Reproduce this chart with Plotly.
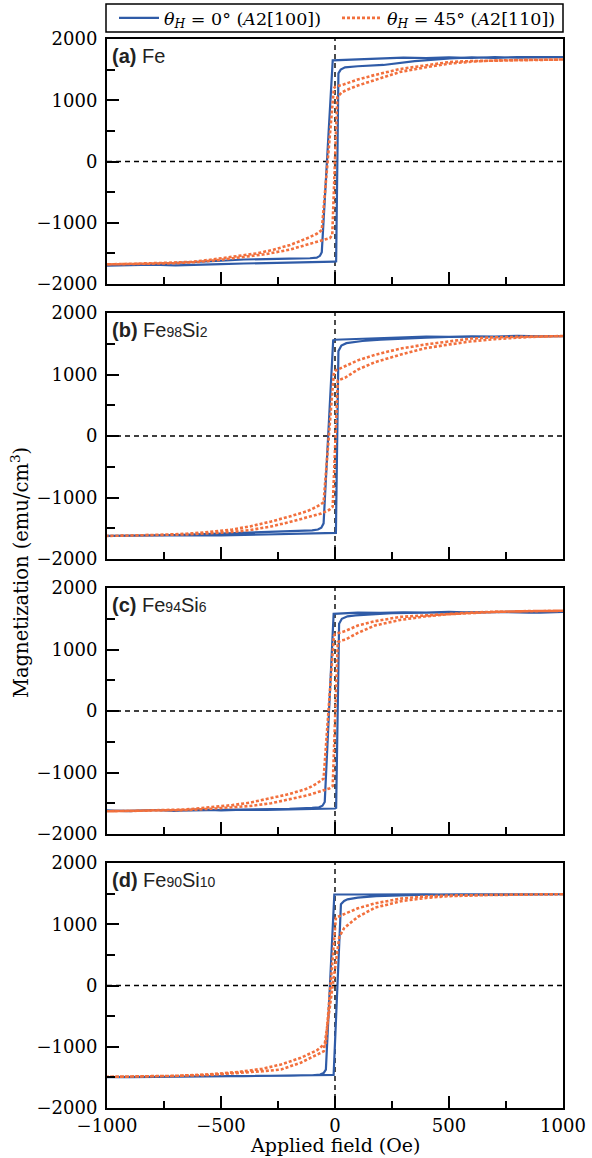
import plotly.graph_objects as go

# ---- measured M(H) loops: descending branch (+H -> -H) then ascending branch ----
# (a) Fe
A_BLUE_DOWN_H = [1000, 900, 800, 700, 600, 500, 400, 300, 200, 120, 60, 20, 0, -10, -58, -66, -80, -110, -200, -300, -400, -500, -600, -700, -800, -900, -1000]
A_BLUE_DOWN_M = [1705, 1700, 1695, 1705, 1690, 1700, 1690, 1695, 1680, 1672, 1665, 1660, 1658, 1652, -1480, -1540, -1570, -1580, -1585, -1590, -1600, -1620, -1640, -1660, -1670, -1690, -1700]
A_BLUE_UP_H = [-1000, -900, -800, -700, -600, -500, -400, -300, -200, -100, -40, 0, 5, 15, 25, 44, 100, 212, 350, 504, 600, 700, 800, 900, 1000]
A_BLUE_UP_M = [-1700, -1690, -1685, -1695, -1680, -1675, -1665, -1660, -1655, -1650, -1640, -1636, -1630, 1440, 1500, 1538, 1555, 1576, 1640, 1685, 1700, 1690, 1705, 1700, 1705]
A_ORNG_DOWN_H = [1000, 850, 700, 600, 504, 400, 285, 175, 100, 40, 0, -5, -58, -80, -120, -197, -270, -342, -420, -491, -560, -636, -750, -880, -1000]
A_ORNG_DOWN_M = [1665, 1660, 1650, 1640, 1625, 1575, 1510, 1413, 1340, 1260, 1217, 1190, -1120, -1180, -1250, -1363, -1440, -1500, -1545, -1576, -1610, -1640, -1655, -1670, -1680]
A_ORNG_UP_H = [-1000, -850, -700, -600, -491, -373, -300, -200, -120, -60, -22, -12, 10, 30, 51, 100, 175, 285, 400, 504, 600, 700, 850, 1000]
A_ORNG_UP_M = [-1680, -1670, -1660, -1640, -1600, -1550, -1510, -1440, -1360, -1290, -1250, -1200, 1050, 1130, 1168, 1240, 1330, 1462, 1540, 1600, 1630, 1650, 1660, 1665]

# (b) Fe98Si2
B_BLUE_DOWN_H = [1000, 900, 800, 700, 600, 500, 400, 300, 200, 100, 50, 0, -8, -50, -60, -75, -100, -200, -300, -400, -500, -600, -700, -800, -900, -1000]
B_BLUE_DOWN_M = [1625, 1620, 1628, 1615, 1622, 1612, 1618, 1605, 1600, 1590, 1580, 1565, 1555, -1420, -1490, -1520, -1535, -1550, -1560, -1575, -1590, -1600, -1610, -1615, -1620, -1625]
B_BLUE_UP_H = [-1000, -900, -800, -700, -600, -500, -400, -300, -200, -100, -40, 0, 4, 15, 28, 50, 80, 120, 200, 300, 400, 500, 600, 700, 800, 900, 1000]
B_BLUE_UP_M = [-1625, -1620, -1615, -1622, -1612, -1618, -1610, -1605, -1600, -1595, -1590, -1585, -1575, 1380, 1470, 1510, 1530, 1545, 1565, 1585, 1600, 1610, 1615, 1620, 1618, 1625, 1625]
B_ORNG_DOWN_H = [1000, 850, 700, 600, 504, 400, 285, 175, 100, 45, 0, -5, -50, -80, -120, -200, -280, -373, -450, -550, -650, -800, -1000]
B_ORNG_DOWN_M = [1625, 1620, 1605, 1585, 1540, 1490, 1420, 1320, 1230, 1130, 1060, 1030, -1080, -1150, -1220, -1310, -1390, -1470, -1520, -1560, -1590, -1610, -1625]
B_ORNG_UP_H = [-1000, -800, -650, -550, -450, -373, -280, -200, -120, -60, -25, -10, 12, 30, 45, 100, 175, 285, 400, 504, 600, 700, 850, 1000]
B_ORNG_UP_M = [-1625, -1615, -1600, -1580, -1560, -1530, -1470, -1400, -1320, -1260, -1200, -1150, 900, 930, 950, 1080, 1200, 1320, 1430, 1490, 1540, 1575, 1610, 1625]

# (c) Fe94Si6
C_BLUE_DOWN_H = [1000, 900, 800, 700, 600, 500, 400, 300, 200, 100, 40, 0, -6, -45, -55, -70, -100, -200, -300, -400, -500, -600, -700, -800, -900, -1000]
C_BLUE_DOWN_M = [1610, 1600, 1615, 1605, 1600, 1612, 1598, 1605, 1595, 1600, 1590, 1588, 1580, -1480, -1540, -1565, -1575, -1590, -1595, -1600, -1610, -1605, -1620, -1610, -1625, -1620]
C_BLUE_UP_H = [-1000, -900, -800, -700, -600, -500, -400, -300, -200, -100, -40, 0, 5, 18, 30, 55, 90, 150, 250, 400, 550, 700, 850, 1000]
C_BLUE_UP_M = [-1620, -1630, -1610, -1625, -1600, -1615, -1605, -1610, -1600, -1595, -1590, -1585, -1575, 1420, 1500, 1540, 1555, 1570, 1590, 1600, 1605, 1610, 1600, 1610]
C_ORNG_DOWN_H = [1000, 850, 700, 600, 504, 400, 285, 175, 100, 45, 0, -5, -50, -80, -120, -200, -280, -373, -450, -550, -650, -800, -1000]
C_ORNG_DOWN_M = [1630, 1625, 1615, 1600, 1580, 1560, 1530, 1460, 1390, 1300, 1250, 1220, -1100, -1180, -1260, -1350, -1420, -1490, -1530, -1570, -1600, -1615, -1630]
C_ORNG_UP_H = [-1000, -800, -650, -550, -450, -373, -280, -200, -120, -60, -25, -10, 12, 30, 45, 100, 175, 285, 400, 504, 600, 700, 850, 1000]
C_ORNG_UP_M = [-1630, -1620, -1610, -1590, -1570, -1545, -1500, -1440, -1370, -1300, -1260, -1220, 1120, 1150, 1160, 1270, 1390, 1480, 1540, 1575, 1595, 1610, 1625, 1630]

# (d) Fe90Si10
D_BLUE_DOWN_H = [1000, 900, 800, 700, 600, 500, 400, 300, 200, 100, 40, 0, -3, -40, -50, -65, -100, -200, -300, -400, -500, -600, -700, -800, -900, -1000]
D_BLUE_DOWN_M = [1490, 1485, 1492, 1480, 1488, 1482, 1490, 1485, 1488, 1486, 1486, 1486, 1486, -1372, -1430, -1455, -1465, -1470, -1475, -1480, -1485, -1488, -1490, -1492, -1495, -1495]
D_BLUE_UP_H = [-1000, -900, -800, -700, -600, -500, -400, -300, -200, -100, -40, -6, 26, 40, 55, 100, 180, 290, 400, 550, 700, 850, 1000]
D_BLUE_UP_M = [-1495, -1490, -1495, -1488, -1485, -1482, -1480, -1478, -1475, -1470, -1465, -1460, 1326, 1380, 1407, 1435, 1460, 1478, 1484, 1488, 1486, 1490, 1490]
D_ORNG_DOWN_H = [1000, 850, 700, 600, 504, 400, 290, 175, 100, 55, 4, -40, -80, -150, -237, -320, -420, -550, -700, -850, -1000]
D_ORNG_DOWN_M = [1490, 1485, 1478, 1475, 1470, 1455, 1420, 1340, 1260, 1189, 1107, -937, -1060, -1180, -1290, -1360, -1410, -1450, -1475, -1485, -1490]
D_ORNG_UP_H = [-1000, -850, -700, -550, -420, -320, -237, -150, -90, -49, 19, 41, 100, 175, 290, 400, 504, 600, 700, 850, 1000]
D_ORNG_UP_M = [-1490, -1485, -1475, -1460, -1430, -1400, -1372, -1260, -1150, -1073, 800, 941, 1120, 1270, 1377, 1430, 1459, 1472, 1480, 1486, 1490]

PANEL_LABELS = ["<b>(a)</b> Fe",
                "<b>(b)</b> Fe<span style='font-size:14px'>98</span>Si<span style='font-size:14px'>2</span>",
                "<b>(c)</b> Fe<span style='font-size:14px'>94</span>Si<span style='font-size:14px'>6</span>",
                "<b>(d)</b> Fe<span style='font-size:14px'>90</span>Si<span style='font-size:14px'>10</span>"]
SERIES_NAMES = ["<i>θ<sub>H</sub></i> = 0° (<i>A</i>2[100])",
                "<i>θ<sub>H</sub></i> = 45° (<i>A</i>2[110])"]
Y_TICKS = [-2000, -1000, 0, 1000, 2000]
Y_TICK_TEXT = ["−2000", "−1000", "0", "1000", "2000"]
X_TICKS = [-1000, -500, 0, 500, 1000]
X_TICK_TEXT = ["−1000", "−500", "0", "500", "1000"]

BLUE = "#2F5BA7"
ORANGE = "#F2703D"
SERIF = "DejaVu Serif"
SANS = "Liberation Sans"

panels = [
    (A_BLUE_DOWN_H + A_BLUE_UP_H, A_BLUE_DOWN_M + A_BLUE_UP_M, A_ORNG_DOWN_H + A_ORNG_UP_H, A_ORNG_DOWN_M + A_ORNG_UP_M),
    (B_BLUE_DOWN_H + B_BLUE_UP_H, B_BLUE_DOWN_M + B_BLUE_UP_M, B_ORNG_DOWN_H + B_ORNG_UP_H, B_ORNG_DOWN_M + B_ORNG_UP_M),
    (C_BLUE_DOWN_H + C_BLUE_UP_H, C_BLUE_DOWN_M + C_BLUE_UP_M, C_ORNG_DOWN_H + C_ORNG_UP_H, C_ORNG_DOWN_M + C_ORNG_UP_M),
    (D_BLUE_DOWN_H + D_BLUE_UP_H, D_BLUE_DOWN_M + D_BLUE_UP_M, D_ORNG_DOWN_H + D_ORNG_UP_H, D_ORNG_DOWN_M + D_ORNG_UP_M),
]

W, H = 592, 1158
M_L, M_R, M_T, M_B = 107, 29, 39, 50
plot_w = W - M_L - M_R
plot_h = H - M_T - M_B
# panel boxes in pixel rows (top, bottom)
rows_px = [(39, 284), (313, 559), (588, 834), (863, 1108)]


def to_paper_y(py):
    return (H - M_B - py) / plot_h


def to_paper_x(px):
    return (px - M_L) / plot_w


fig = go.Figure()
layout = {}
for i, (bh, bm, oh, om) in enumerate(panels):
    n = i + 1
    xa = "x" if n == 1 else f"x{n}"
    ya = "y" if n == 1 else f"y{n}"
    fig.add_trace(go.Scatter(x=bh, y=bm, mode="lines", xaxis=xa, yaxis=ya,
                             line=dict(color=BLUE, width=2.2), name=SERIES_NAMES[0],
                             showlegend=(n == 1), legendgroup="b"))
    fig.add_trace(go.Scatter(x=oh, y=om, mode="lines", xaxis=xa, yaxis=ya,
                             line=dict(color=ORANGE, width=2.6, dash="3px,2px"), name=SERIES_NAMES[1],
                             showlegend=(n == 1), legendgroup="o"))
    top, bot = rows_px[i]
    xkey = "xaxis" if n == 1 else f"xaxis{n}"
    ykey = "yaxis" if n == 1 else f"yaxis{n}"
    layout[xkey] = dict(
        domain=[0, 1], anchor=ya, range=[-1000, 1000],
        showline=True, mirror=True, linecolor="black", linewidth=2,
        showgrid=False, zeroline=False,
        ticks="inside", ticklen=12, tickwidth=1.5, tickcolor="black",
        tickvals=X_TICKS, ticktext=X_TICK_TEXT, showticklabels=(n == 4),
        minor=dict(ticks="inside", ticklen=7, tickwidth=1.5, tickcolor="black", dtick=250, tick0=0, showgrid=False),
        tickfont=dict(family=SERIF, size=18, color="black"),
        matches=None if n == 1 else "x",
    )
    layout[ykey] = dict(
        domain=[to_paper_y(bot), to_paper_y(top)], anchor=xa, range=[-2000, 2000],
        showline=True, mirror=True, linecolor="black", linewidth=2,
        showgrid=False, zeroline=False,
        ticks="inside", ticklen=12, tickwidth=1.5, tickcolor="black",
        tickvals=Y_TICKS, ticktext=Y_TICK_TEXT,
        minor=dict(ticks="inside", ticklen=8, tickwidth=1.5, tickcolor="black", dtick=500, tick0=0, showgrid=False),
        tickfont=dict(family=SERIF, size=18, color="black"),
        ticklabelstandoff=4,
    )
    # dashed zero lines
    fig.add_shape(type="line", xref=xa, yref=ya, x0=0, x1=0, y0=-2000, y1=2000,
                  line=dict(color="black", width=1.4, dash="5px,4px"), layer="below")
    fig.add_shape(type="line", xref=xa, yref=ya, x0=-1000, x1=1000, y0=0, y1=0,
                  line=dict(color="black", width=1.4, dash="5px,4px"), layer="below")
    fig.add_annotation(text=PANEL_LABELS[i], xref="paper", yref="paper",
                       x=to_paper_x(110), y=to_paper_y(top + 4),
                       xanchor="left", yanchor="top", showarrow=False,
                       font=dict(family=SANS, size=20, color="#222222"))

# axis titles
fig.add_annotation(text="Applied field (Oe)", xref="paper", yref="paper",
                   x=0.5, y=to_paper_y(1145), xanchor="center", yanchor="middle",
                   showarrow=False, font=dict(family=SERIF, size=19, color="black"))
fig.add_annotation(text="Magnetization (emu/cm<sup>3</sup>)", xref="paper", yref="paper",
                   x=to_paper_x(20), y=to_paper_y(573), xanchor="center", yanchor="middle",
                   textangle=-90, showarrow=False, font=dict(family=SERIF, size=19.5, color="black"))

# legend frame
fig.add_shape(type="rect", xref="paper", yref="paper",
              x0=to_paper_x(106), x1=to_paper_x(563),
              y0=to_paper_y(32), y1=to_paper_y(4), line=dict(color="black", width=1.5))

fig.update_layout(
    width=W, height=H,
    margin=dict(l=M_L, r=M_R, t=M_T, b=M_B, autoexpand=False),
    plot_bgcolor="white", paper_bgcolor="white",
    showlegend=True,
    legend=dict(orientation="h", x=to_paper_x(114), y=to_paper_y(18),
                xanchor="left", yanchor="middle", bgcolor="rgba(0,0,0,0)",
                font=dict(family=SERIF, size=17.5, color="black"),
                itemwidth=40, tracegroupgap=0, entrywidth=168, entrywidthmode="pixels"),
    **layout,
)

fig.write_html("out.html")
